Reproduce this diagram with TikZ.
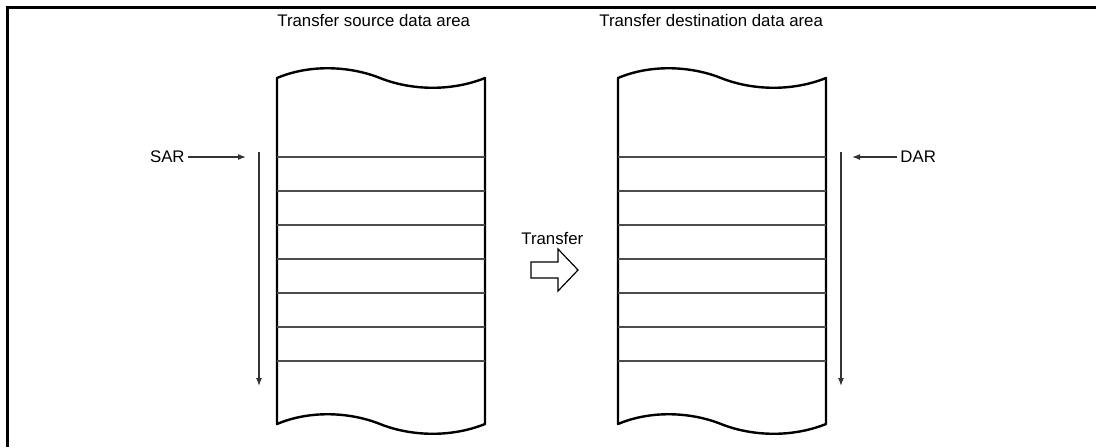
\documentclass[tikz,border=0pt]{standalone}
\usepackage{fontspec}
\setmainfont{Liberation Sans}
\usetikzlibrary{arrows.meta,positioning}

\begin{document}
\begin{tikzpicture}[
  x=0.5pt, y=-0.5pt,
  font=\fontsize{8.4}{10}\selectfont,
  frame/.style = {line width=1.5pt},
  edge/.style  = {line width=1.2pt, line join=round},
  row/.style   = {line width=.65pt, draw=black!70},
  ptr/.style   = {-{Latex[length=4pt,width=3pt]}, line width=.6pt, draw=black!80},
  lbl/.style   = {inner sep=1.5pt},
  blk/.style   = {line width=.6pt, line join=miter},
]
\useasboundingbox (0,0) rectangle (1096,447);

% ── cornice ─────────────────────────────────────────────────────────────
\draw[frame] (7,447) -- (7,7) -- (1096,7);

% ── aree dati: sorgente e destinazione ──────────────────────────────────
\foreach \cx/\nm in {277/src, 618/dst}{
  \begin{scope}[shift={(\cx,0)}]
    \draw[edge] (0,78) .. controls (33,64) and (73,66) .. (103,78)
                       .. controls (133,90) and (173,92) .. (208,78)
                -- (208,424) .. controls (173,438) and (133,436) .. (103,424)
                             .. controls (73,412) and (33,410) .. (0,424) -- cycle;
    \foreach \k in {0,...,6}
      \draw[row] (0,157+34*\k) -- (208,157+34*\k);
    \coordinate (\nm-top) at (104,78);
  \end{scope}
}

\node[lbl, anchor=base west] (srcTitle) at (274,26) {Transfer source data area};
\node[lbl, anchor=base west] (dstTitle) at (596,26) {Transfer destination data area};

% ── puntatori SAR / DAR ─────────────────────────────────────────────────
\node[lbl, anchor=east] (sar) at (188,157) {SAR};
\coordinate (sarTip) at (246,157);
\draw[ptr] (sar) -- (sarTip);

\node[lbl, anchor=west] (dar) at (897,157) {DAR};
\coordinate (darTip) at (852,157);
\draw[ptr] (dar) -- (darTip);

\coordinate (srcScan0) at (259,152);
\coordinate (srcScan1) at (259,386);
\draw[ptr] (srcScan0) -- (srcScan1);

\coordinate (dstScan0) at (841,152);
\coordinate (dstScan1) at (841,386);
\draw[ptr] (dstScan0) -- (dstScan1);

% ── trasferimento ───────────────────────────────────────────────────────
\node[lbl, anchor=base west] (xfer) at (518,244) {Transfer};
\draw[blk] (531,262) -- (558,262) -- (558,249) -- (578,270)
           -- (558,291) -- (558,278) -- (531,278) -- cycle;
\end{tikzpicture}
\end{document}
